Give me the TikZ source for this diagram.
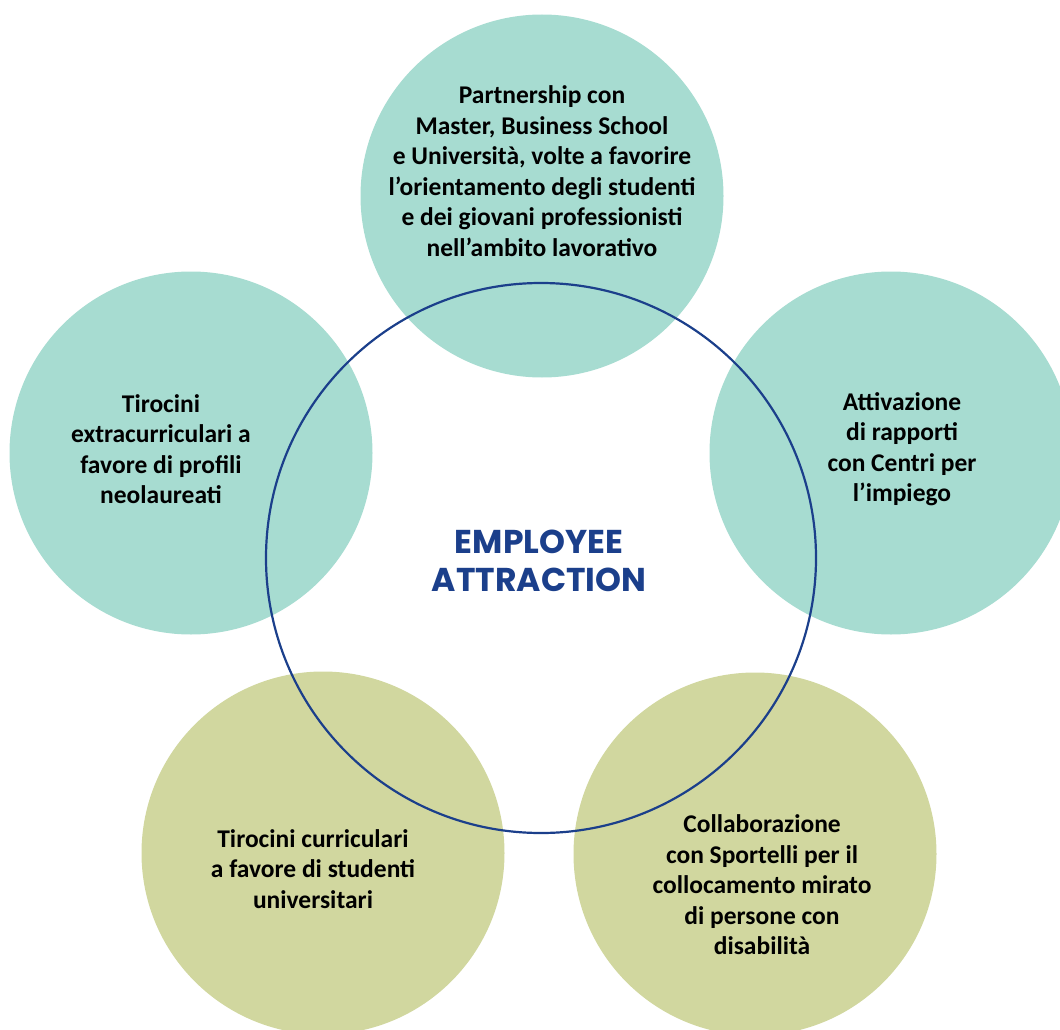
\documentclass[tikz,border=0pt]{standalone}
\usepackage{fontspec}
\setmainfont{Carlito}
\newfontfamily\titlefont{Poppins}
\definecolor{teal}{HTML}{A7DCD1}
\definecolor{olive}{HTML}{D1D79F}
\definecolor{navy}{HTML}{1B3F8B}
\tikzset{
  bubble/.style={circle, minimum size=363pt, inner sep=0pt, draw=none},
  label/.style={align=center, font=\bfseries\fontsize{25.5}{30.5}\selectfont},
  core/.style={circle, minimum size=550pt, inner sep=0pt, draw=navy, line width=2.2pt}
}
\begin{document}
\begin{tikzpicture}[x=1pt, y=-1pt]

    % Canvas
    \useasboundingbox (0,0) rectangle (1060,1030);
    \clip (0,0) rectangle (1060,1030);

    % Outer bubbles
    \node[bubble, fill=teal]  (top)   at (542,196) {};
    \node[bubble, fill=teal]  (left)  at (191,453) {};
    \node[bubble, fill=teal]  (right) at (891,453) {};
    \node[bubble, fill=olive] (botl)  at (323,853) {};
    \node[bubble, fill=olive] (botr)  at (755,854) {};

    % Central ring
    \node[core] (ring) at (541,558) {};

    % Bubble texts
    \node[label] (toptext) at (542,171)
        {Partnership con\\Master, Business School\\e Università, volte a favorire\\l’orientamento degli studenti\\e dei giovani professionisti\\nell’ambito lavorativo};
    \node[label] (lefttext) at (161,449)
        {Tirocini\\extracurriculari a\\favore di profili\\neolaureati};
    \node[label] (righttext) at (902,449)
        {Attivazione\\di rapporti\\con Centri per\\l’impiego};
    \node[label] (botltext) at (313,869)
        {Tirocini curriculari\\a favore di studenti\\universitari};
    \node[label] (botrtext) at (762,885)
        {Collaborazione\\con Sportelli per il\\collocamento mirato\\di persone con\\disabilità};

    % Title
    \node[align=center, text=navy, font=\titlefont\bfseries\fontsize{33}{38}\selectfont] (title) at (539,561)
        {EMPLOYEE\\ATTRACTION};

\end{tikzpicture}
\end{document}
